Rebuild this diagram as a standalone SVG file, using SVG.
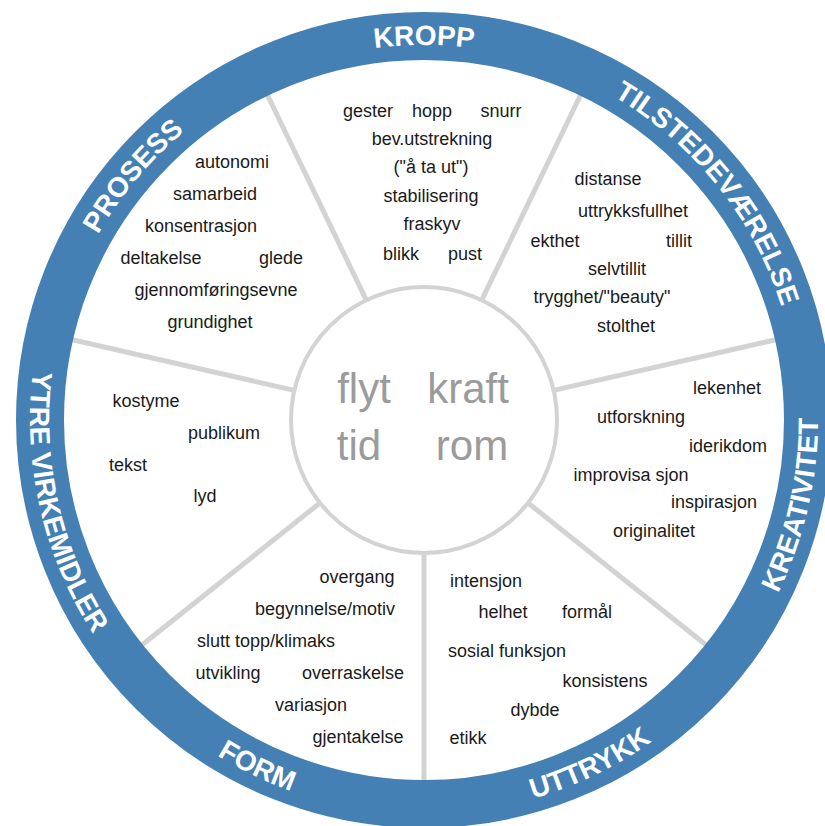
<svg xmlns="http://www.w3.org/2000/svg" xmlns:xlink="http://www.w3.org/1999/xlink" width="825" height="826" viewBox="0 0 825 826">
<style>
.item{font-family:"Liberation Sans",Arial,sans-serif;font-size:18px;fill:#1a1a1a;text-anchor:middle}
.core{font-family:"Liberation Sans",Arial,sans-serif;font-size:42px;fill:#9b9b9b;text-anchor:middle}
.ring-label{font-family:"Liberation Sans",Arial,sans-serif;font-size:28px;font-weight:bold;fill:#ffffff;text-anchor:middle}
.spoke{stroke:#d3d3d3;stroke-width:5;stroke-linecap:butt}
</style>
<defs>
<path id="p-kropp" d="M-352.4,-128.3 A375,375 0 0 1 352.4,-128.3"/>
<path id="p-tilst" d="M-56.1,-370.8 A375,375 0 0 1 349.2,136.8"/>
<path id="p-prosess" d="M-352.4,128.3 A375,375 0 0 1 65.1,-369.3"/>
<path id="p-ytre" d="M-214.0,-330.8 A394,394 0 0 0 -48.7,391.0"/>
<path id="p-form" d="M-392.1,-39.1 A394,394 0 0 0 275.2,282.0"/>
<path id="p-uttrykk" d="M-275.2,282.0 A394,394 0 0 0 392.1,-39.1"/>
<path id="p-kreat" d="M48.7,391.0 A394,394 0 0 0 214.0,-330.8"/>
</defs>
<rect x="0" y="0" width="825" height="826" fill="#ffffff"/>
<g transform="translate(424,420)">
  <circle cx="0" cy="0" r="362" fill="#ffffff"/>
  <g id="connectors">
    <line class="spoke" x1="0" y1="133" x2="0" y2="364"/>
    <line class="spoke" x1="-104.0" y1="82.9" x2="-284.6" y2="227.0"/>
    <line class="spoke" x1="-129.7" y1="-29.6" x2="-354.9" y2="-81.0"/>
    <line class="spoke" x1="-57.7" y1="-119.8" x2="-158.0" y2="-328.0"/>
    <line class="spoke" x1="57.7" y1="-119.8" x2="158.0" y2="-328.0"/>
    <line class="spoke" x1="129.7" y1="-29.6" x2="354.9" y2="-81.0"/>
    <line class="spoke" x1="104.0" y1="82.9" x2="284.6" y2="227.0"/>
  </g>
  <g id="core">
    <circle cx="0" cy="0" r="133" fill="#ffffff" stroke="#d3d3d3" stroke-width="4"/>
  </g>
  <g id="ring">
    <circle cx="0" cy="0" r="384" fill="none" stroke="#4480b3" stroke-width="48"/>
    <text class="ring-label"><textPath xlink:href="#p-kropp" href="#p-kropp" startOffset="50%">KROPP</textPath></text>
    <text class="ring-label"><textPath xlink:href="#p-tilst" href="#p-tilst" startOffset="50%">TILSTEDEVÆRELSE</textPath></text>
    <text class="ring-label"><textPath xlink:href="#p-prosess" href="#p-prosess" startOffset="50%">PROSESS</textPath></text>
    <text class="ring-label"><textPath xlink:href="#p-ytre" href="#p-ytre" startOffset="50%">YTRE VIRKEMIDLER</textPath></text>
    <text class="ring-label"><textPath xlink:href="#p-form" href="#p-form" startOffset="50%">FORM</textPath></text>
    <text class="ring-label"><textPath xlink:href="#p-uttrykk" href="#p-uttrykk" startOffset="50%">UTTRYKK</textPath></text>
    <text class="ring-label"><textPath xlink:href="#p-kreat" href="#p-kreat" startOffset="50%">KREATIVITET</textPath></text>
  </g>
</g>
<g id="center-words">
  <text class="core" x="364" y="403">flyt</text>
  <text class="core" x="468" y="403">kraft</text>
  <text class="core" x="359" y="460">tid</text>
  <text class="core" x="472" y="460">rom</text>
</g>
<g id="kropp">
  <text class="item" x="368" y="117">gester</text>
  <text class="item" x="432" y="117">hopp</text>
  <text class="item" x="501" y="117">snurr</text>
  <text class="item" x="432" y="145">bev.utstrekning</text>
  <text class="item" x="431" y="173">("å ta ut")</text>
  <text class="item" x="431" y="202">stabilisering</text>
  <text class="item" x="432" y="230">fraskyv</text>
  <text class="item" x="401" y="260">blikk</text>
  <text class="item" x="465" y="260">pust</text>
</g>
<g id="prosess">
  <text class="item" x="232" y="168">autonomi</text>
  <text class="item" x="215" y="200">samarbeid</text>
  <text class="item" x="201" y="232">konsentrasjon</text>
  <text class="item" x="161" y="264">deltakelse</text>
  <text class="item" x="281" y="264">glede</text>
  <text class="item" x="216" y="296">gjennomføringsevne</text>
  <text class="item" x="210" y="328">grundighet</text>
</g>
<g id="tilstedevaerelse">
  <text class="item" x="608" y="185">distanse</text>
  <text class="item" x="633" y="217">uttrykksfullhet</text>
  <text class="item" x="555" y="247">ekthet</text>
  <text class="item" x="679" y="247">tillit</text>
  <text class="item" x="617" y="275">selvtillit</text>
  <text class="item" x="602" y="303">trygghet/"beauty"</text>
  <text class="item" x="626" y="332">stolthet</text>
</g>
<g id="ytre-virkemidler">
  <text class="item" x="146" y="407">kostyme</text>
  <text class="item" x="224" y="439">publikum</text>
  <text class="item" x="128" y="471">tekst</text>
  <text class="item" x="205" y="502">lyd</text>
</g>
<g id="kreativitet">
  <text class="item" x="727" y="394">lekenhet</text>
  <text class="item" x="641" y="423">utforskning</text>
  <text class="item" x="728" y="452">iderikdom</text>
  <text class="item" x="631" y="481">improvisa sjon</text>
  <text class="item" x="714" y="508">inspirasjon</text>
  <text class="item" x="654" y="537">originalitet</text>
</g>
<g id="form">
  <text class="item" x="357" y="583">overgang</text>
  <text class="item" x="325" y="615">begynnelse/motiv</text>
  <text class="item" x="266" y="647">slutt topp/klimaks</text>
  <text class="item" x="228" y="679">utvikling</text>
  <text class="item" x="353" y="679">overraskelse</text>
  <text class="item" x="311" y="711">variasjon</text>
  <text class="item" x="358" y="743">gjentakelse</text>
</g>
<g id="uttrykk">
  <text class="item" x="486" y="587">intensjon</text>
  <text class="item" x="503" y="618">helhet</text>
  <text class="item" x="587" y="618">formål</text>
  <text class="item" x="507" y="657">sosial funksjon</text>
  <text class="item" x="605" y="687">konsistens</text>
  <text class="item" x="535" y="716">dybde</text>
  <text class="item" x="468" y="744">etikk</text>
</g>
</svg>
